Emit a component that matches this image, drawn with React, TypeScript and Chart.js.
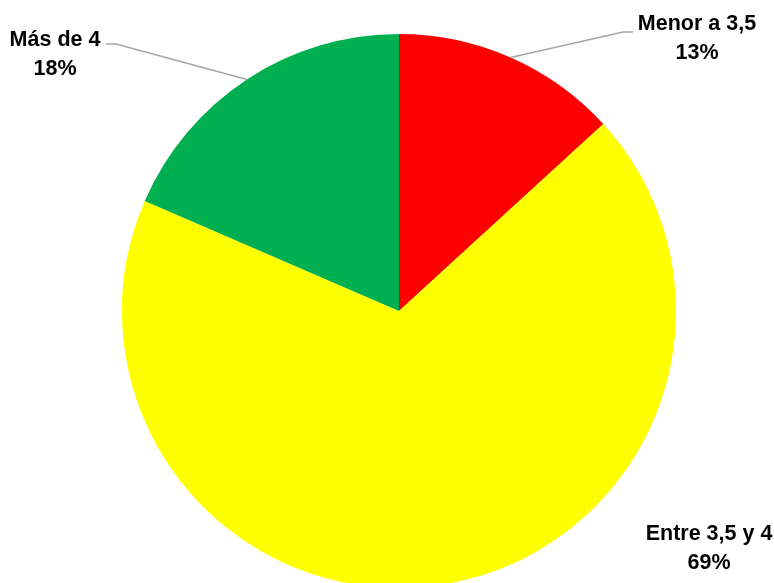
import React, { useEffect, useRef } from "react";
import { Chart, registerables } from "chart.js";

Chart.register(...registerables);

const categories = ["Menor a 3,5", "Entre 3,5 y 4", "Más de 4"];
const values = [13.2, 68.3, 18.5];
const percentLabels = ["13%", "69%", "18%"];
const colors = ["#FF0000", "#FFFF00", "#00B050"];

const labelPlugin = {
  id: "pieLabels",
  afterDatasetsDraw(chart: any, _args: any, opts: any) {
    const ctx = chart.ctx;
    const meta = chart.getDatasetMeta(0);
    const layout = opts.layout || [];
    ctx.save();
    meta.data.forEach((arc: any, i: number) => {
      const L = layout[i];
      if (!L) return;
      const { x, y, startAngle, endAngle, outerRadius } = arc.getProps(
        ["x", "y", "startAngle", "endAngle", "outerRadius"],
        true
      );
      const mid = (startAngle + endAngle) / 2;
      if (L.elbow) {
        const ax = x + Math.cos(mid) * outerRadius;
        const ay = y + Math.sin(mid) * outerRadius;
        ctx.beginPath();
        ctx.strokeStyle = "#A6A6A6";
        ctx.lineWidth = 1.5;
        ctx.moveTo(ax, ay);
        ctx.lineTo(L.elbow[0], L.elbow[1]);
        ctx.lineTo(L.end[0], L.end[1]);
        ctx.stroke();
      }
      ctx.fillStyle = "#000000";
      ctx.font = "bold 21.5px 'Liberation Sans', Arial, sans-serif";
      ctx.textAlign = "center";
      ctx.textBaseline = "middle";
      ctx.fillText(categories[i], L.x, L.y);
      ctx.fillText(percentLabels[i], L.x, L.y + 29);
    });
    ctx.restore();
  },
};

export default function App() {
  const ref = useRef<HTMLCanvasElement>(null);
  useEffect(() => {
    if (!ref.current) return;
    const chart = new Chart(ref.current, {
      type: "pie",
      data: {
        labels: categories,
        datasets: [
          {
            data: values,
            backgroundColor: colors,
            borderWidth: 0,
          },
        ],
      },
      options: {
        responsive: false,
        animation: false,
        layout: { padding: { top: 34, bottom: 52, left: 122, right: 98 } },
        plugins: {
          legend: { display: false },
          tooltip: { enabled: false },
          pieLabels: {
            layout: [
              { x: 697, y: 24, elbow: [623, 32], end: [633, 32] },
              { x: 709, y: 534 },
              { x: 55, y: 40, elbow: [116, 44], end: [106, 44] },
            ],
          },
        } as any,
      },
      plugins: [labelPlugin],
    });
    return () => chart.destroy();
  }, []);
  return (
    <div
      style={{
        position: "absolute",
        left: 0,
        top: 0,
        width: 774,
        height: 583,
        overflow: "hidden",
        background: "#fff",
      }}
    >
      <canvas ref={ref} width={774} height={640} style={{ width: 774, height: 640 }} />
    </div>
  );
}
